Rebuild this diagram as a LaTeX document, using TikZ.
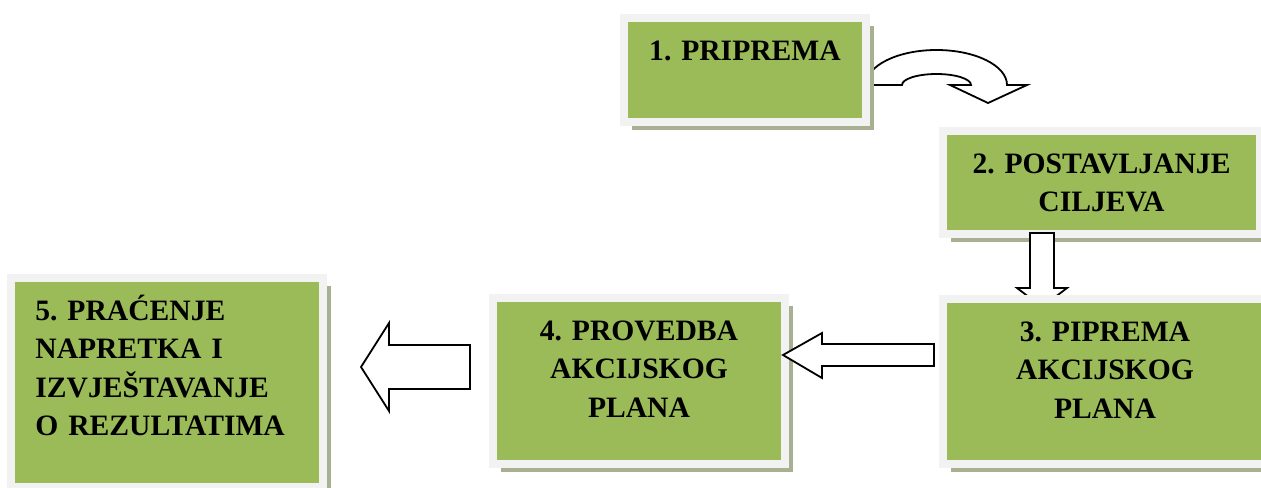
\documentclass[tikz,border=0pt]{standalone}
\usepackage{fontspec}
\setmainfont{Liberation Serif}
\frenchspacing
\usetikzlibrary{positioning,shadows}
\definecolor{boxgreen}{RGB}{155,187,89}
\definecolor{framegray}{RGB}{242,242,242}
\definecolor{shadowolive}{RGB}{168,176,146}

\tikzset{
  stagebox/.style={fill=boxgreen, draw=framegray, line width=4pt, inner sep=0pt,
    drop shadow={shadow xshift=3.75pt, shadow yshift=-3.75pt, fill=shadowolive, opacity=1}},
  stagetext/.style={font=\bfseries\fontsize{14.8}{19.25}\selectfont, text width=150pt,
    align=center, inner sep=0pt, anchor=base},
  blockarrow/.style={draw=black, fill=white, line width=0.9pt, line join=miter}
}

\begin{document}
\begin{tikzpicture}[x=0.5pt, y=-0.5pt]
\useasboundingbox (0,0) rectangle (1261,487);

% Curved arrow 1 -> 2
\draw[blockarrow] (866,85) .. controls (866,65.67) and (897.56,50) .. (936.5,50)
  .. controls (975.44,50) and (1007,65.67) .. (1007,85) -- (1027,85) -- (988,103) -- (950,85)
  -- (971,85) .. controls (971,78.92) and (955.55,74) .. (936.5,74)
  .. controls (917.45,74) and (902,78.92) .. (902,85) -- cycle;

% Stage 1
\node[stagebox, minimum width=121pt, minimum height=52pt] (b1) at (745,70) {};
\node[stagetext] (t1) at ([yshift=-23pt]b1.north) {1. PRIPREMA};

% Stage 2
\node[stagebox, minimum width=158.5pt, minimum height=51.5pt] (b2) at (1101.5,182.5) {};
\node[stagetext] (t2) at ([yshift=-23pt]b2.north) {2. POSTAVLJANJE\\CILJEVA};

% Arrow 2 -> 3
\draw[blockarrow] (1030,233) -- (1054,233) -- (1054,288) -- (1067,288) -- (1042,307)
  -- (1017,288) -- (1030,288) -- cycle;

% Stage 3
\node[stagebox, minimum width=162pt, minimum height=82.5pt] (b3) at (1105,381.5) {};
\node[stagetext] (t3) at ([yshift=-23pt]b3.north) {3. PIPREMA\\AKCIJSKOG\\PLANA};

% Stage 4
\node[stagebox, minimum width=146pt, minimum height=83pt] (b4) at (639,381) {};
\node[stagetext] (t4) at ([yshift=-23pt]b4.north) {4. PROVEDBA\\AKCIJSKOG\\PLANA};

% Arrow 3 -> 4
\draw[blockarrow] (934,344) -- (934,366) -- (822,366) -- (822,378) -- (783,355)
  -- (822,333) -- (822,344) -- cycle;

% Stage 5
\node[stagebox, minimum width=156pt, minimum height=104.5pt] (b5) at (167,382.5) {};
\node[stagetext, align=left, anchor=base west] (t5) at ([xshift=14pt, yshift=-23pt]b5.north west)
  {5. PRAĆENJE\\NAPRETKA I\\IZVJEŠTAVANJE\\O REZULTATIMA};

% Arrow 4 -> 5
\draw[blockarrow] (470,345) -- (470,389) -- (389,389) -- (389,411) -- (361,367)
  -- (389,323) -- (389,345) -- cycle;
\end{tikzpicture}
\end{document}
